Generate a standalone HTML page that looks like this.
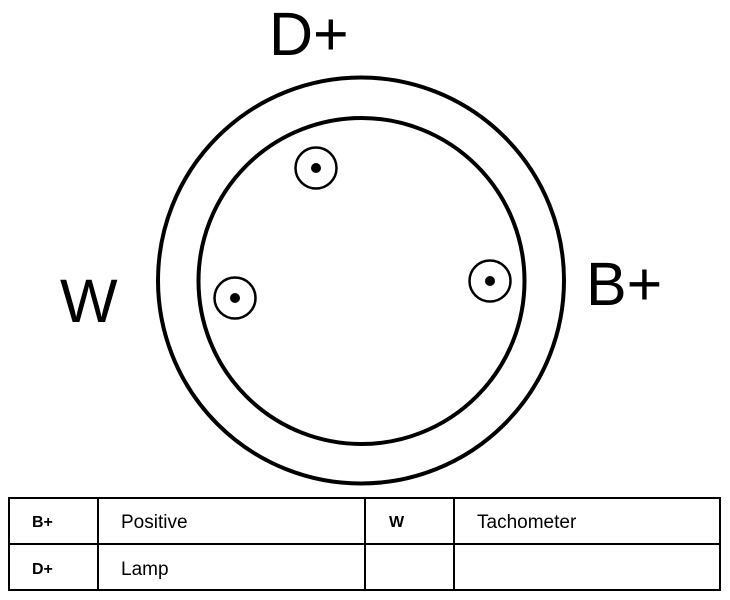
<!DOCTYPE html>
<html><head><meta charset="utf-8"><style>
html,body{margin:0;padding:0;background:#fff;}
svg{display:block;}
</style></head><body>
<svg width="730" height="600" viewBox="0 0 730 600" xmlns="http://www.w3.org/2000/svg" font-family="Liberation Sans, sans-serif">
<rect width="730" height="600" fill="#fff"/>
<circle cx="361" cy="280.5" r="203" fill="none" stroke="#000" stroke-width="4"/>
<circle cx="361.5" cy="281" r="163" fill="none" stroke="#000" stroke-width="4"/>
<g fill="none" stroke="#000" stroke-width="2.5">
<circle cx="316" cy="168" r="20.5"/>
<circle cx="235" cy="298" r="20.5"/>
<circle cx="490" cy="281" r="20.5"/>
</g>
<g fill="#000">
<circle cx="316" cy="168" r="5"/>
<circle cx="235" cy="298" r="5"/>
<circle cx="490" cy="281" r="5"/>
</g>
<text x="269" y="55" font-size="61" fill="#000">D+</text>
<text x="60" y="322" font-size="61" fill="#000">W</text>
<text x="586" y="305" font-size="61" fill="#000">B+</text>
<g fill="none" stroke="#000" stroke-width="2">
<rect x="9" y="498" width="711" height="92"/>
<line x1="9" y1="544" x2="720" y2="544"/>
<line x1="98" y1="498" x2="98" y2="590"/>
<line x1="365" y1="498" x2="365" y2="590"/>
<line x1="454" y1="498" x2="454" y2="590"/>
</g>
<g fill="#000">
<text x="32" y="527" font-size="16" font-weight="bold">B+</text>
<text x="32" y="574" font-size="16" font-weight="bold">D+</text>
<text x="389" y="527" font-size="16" font-weight="bold">W</text>
<text x="121" y="528" font-size="19">Positive</text>
<text x="121" y="575" font-size="19">Lamp</text>
<text x="477" y="528" font-size="19">Tachometer</text>
</g>
</svg>
</body></html>
